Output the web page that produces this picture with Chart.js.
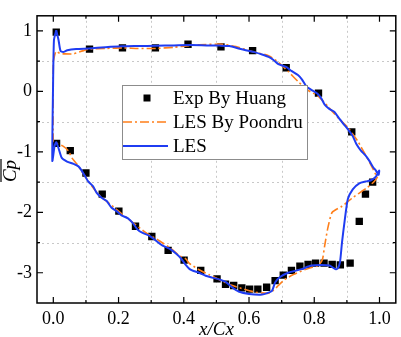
<!DOCTYPE html>
<html>
<head>
<meta charset="UTF-8">
<title>Cp distribution</title>
<script src="https://cdn.jsdelivr.net/npm/chart.js"></script>
<style>
  html, body { margin: 0; padding: 0; background: #fff; }
  canvas { display: block; }
</style>
</head>
<body>
<canvas id="cp" width="401" height="337"></canvas>
<script>
  // axis ticks
  const xMajor = [0, 0.2, 0.4, 0.6, 0.8, 1.0];
  const xMinor = [0.1, 0.3, 0.5, 0.7, 0.9];
  const yMajor = [-3, -2, -1, 0, 1];
  const yMinor = [-2.5, -1.5, -0.5, 0.5];
  const legendLabels = ['Exp By Huang', 'LES By Poondru', 'LES'];

  // Exp By Huang (x/Cx, Cp)
  const expUpper = [[0.009,0.98],[0.111,0.70],[0.212,0.72],[0.313,0.72],[0.413,0.78],[0.514,0.735],
    [0.611,0.675],[0.714,0.39],[0.813,-0.03],[0.915,-0.67],[0.979,-1.50]];
  const expLower = [[0.010,-0.86],[0.052,-0.98],[0.100,-1.35],[0.150,-1.70],[0.201,-1.98],[0.252,-2.23],
    [0.302,-2.40],[0.352,-2.63],[0.401,-2.79],[0.452,-2.96],[0.502,-3.10],[0.528,-3.19],[0.553,-3.21],
    [0.578,-3.25],[0.602,-3.27],[0.627,-3.27],[0.654,-3.24],[0.680,-3.13],[0.705,-3.04],[0.730,-2.96],
    [0.756,-2.89],[0.781,-2.86],[0.804,-2.84],[0.830,-2.84],[0.855,-2.86],[0.880,-2.87],[0.910,-2.84],
    [0.938,-2.15],[0.957,-1.70]];

  // LES (upper surface LE -> TE, then lower surface TE -> LE)
  const lesUpper = [[0.009,1.01],[0.016,0.85],[0.022,0.67],[0.030,0.65],[0.043,0.68],[0.07,0.70],[0.11,0.71],
    [0.16,0.73],[0.21,0.745],[0.26,0.75],[0.315,0.755],[0.37,0.76],[0.42,0.765],[0.47,0.76],[0.51,0.757],
    [0.54,0.75],[0.568,0.71],[0.59,0.68],[0.619,0.645],[0.64,0.61],[0.66,0.57],[0.675,0.52],[0.69,0.45],
    [0.705,0.42],[0.715,0.40],[0.73,0.34],[0.75,0.27],[0.762,0.20],[0.776,0.08],[0.79,0.03],[0.81,-0.04],
    [0.822,-0.12],[0.832,-0.22],[0.846,-0.29],[0.862,-0.34],[0.878,-0.46],[0.893,-0.56],[0.905,-0.64],
    [0.918,-0.74],[0.93,-0.88],[0.943,-0.98],[0.957,-1.06],[0.969,-1.15],[0.98,-1.25],[0.989,-1.31],
    [0.997,-1.38],[0.999,-1.33]];
  const lesLower = [[0.999,-1.31],[0.989,-1.41],[0.974,-1.47],[0.958,-1.49],[0.938,-1.52],[0.918,-1.62],
    [0.903,-1.78],[0.893,-2.15],[0.885,-2.5],[0.879,-2.82],[0.872,-2.93],[0.865,-2.94],[0.847,-2.88],
    [0.822,-2.87],[0.791,-2.88],[0.761,-2.94],[0.72,-3.0],[0.695,-3.07],[0.68,-3.16],[0.67,-3.30],
    [0.64,-3.36],[0.60,-3.35],[0.568,-3.31],[0.548,-3.24],[0.528,-3.15],[0.508,-3.11],[0.487,-3.08],
    [0.467,-3.05],[0.447,-3.0],[0.43,-2.97],[0.418,-2.94],[0.406,-2.87],[0.391,-2.76],[0.376,-2.68],
    [0.356,-2.60],[0.335,-2.55],[0.315,-2.47],[0.295,-2.39],[0.274,-2.34],[0.259,-2.29],[0.244,-2.18],
    [0.229,-2.10],[0.209,-2.05],[0.194,-1.98],[0.178,-1.92],[0.163,-1.81],[0.148,-1.76],[0.133,-1.68],
    [0.122,-1.57],[0.107,-1.49],[0.097,-1.40],[0.087,-1.31],[0.077,-1.24],[0.062,-1.20],[0.042,-1.16],
    [0.026,-1.10],[0.016,-0.94],[0.009,-0.84],[0.004,-0.9],[-0.003,-1.15],[-0.001,0.0],[0.002,0.85],
    [0.009,1.01]];

  // LES By Poondru
  const poondruUpper = [[0.0,0.5],[0.008,0.66],[0.02,0.63],[0.035,0.62],[0.062,0.62],[0.09,0.67],[0.11,0.70],
    [0.16,0.71],[0.213,0.72],[0.26,0.71],[0.315,0.71],[0.37,0.73],[0.416,0.757],[0.447,0.77],[0.517,0.78],
    [0.56,0.74],[0.609,0.66],[0.66,0.59],[0.69,0.48],[0.72,0.33],[0.751,0.16],[0.78,0.02],[0.81,-0.07],
    [0.842,-0.25],[0.87,-0.42],[0.903,-0.60],[0.933,-0.82],[0.955,-1.03],[0.974,-1.22],[0.989,-1.38]];
  const poondruLower = [[0.994,-1.41],[0.984,-1.49],[0.96,-1.6],[0.92,-1.75],[0.885,-1.9],[0.855,-2.0],
    [0.842,-2.25],[0.832,-2.55],[0.825,-2.78],[0.812,-2.88],[0.786,-2.92],[0.761,-2.97],[0.736,-3.03],
    [0.71,-3.11],[0.69,-3.21],[0.675,-3.29],[0.66,-3.34],[0.619,-3.32],[0.578,-3.26],[0.538,-3.19],
    [0.508,-3.11],[0.477,-3.03],[0.447,-2.95],[0.416,-2.84],[0.406,-2.77],[0.386,-2.72],[0.366,-2.62],
    [0.325,-2.47],[0.285,-2.34],[0.239,-2.15],[0.209,-2.02],[0.173,-1.86],[0.138,-1.70],[0.112,-1.52],
    [0.092,-1.36],[0.072,-1.20],[0.057,-1.10],[0.047,-0.99],[0.031,-0.91],[0.011,-0.86],[0.0,-0.83],
    [0.0,0.5]];

  const toPts = arr => arr.map(p => ({ x: p[0], y: p[1] }));

  const serif = '"Liberation Serif", "Times New Roman", serif';
  Chart.defaults.font.family = serif;
  Chart.defaults.color = '#000';

  const BLUE = '#1f3cf2';
  const ORANGE = '#ff7f1a';

  // grid, frame, inward ticks, legend and axis titles
  const decor = {
    id: 'decor',
    beforeDatasetsDraw(chart) {
      const { ctx, chartArea: a, scales: { x, y } } = chart;
      ctx.save();
      ctx.strokeStyle = '#c8c8c8';
      ctx.lineWidth = 1;
      ctx.setLineDash([2, 3]);
      xMinor.forEach(v => {
        const p = Math.round(x.getPixelForValue(v)) + 0.5;
        ctx.beginPath(); ctx.moveTo(p, a.top); ctx.lineTo(p, a.bottom); ctx.stroke();
      });
      yMinor.forEach(v => {
        const p = Math.round(y.getPixelForValue(v)) + 0.5;
        ctx.beginPath(); ctx.moveTo(a.left, p); ctx.lineTo(a.right, p); ctx.stroke();
      });
      ctx.restore();
    },
    afterDatasetsDraw(chart) {
      const { ctx, chartArea: a, scales: { x, y } } = chart;
      ctx.save();
      ctx.strokeStyle = '#000';
      ctx.lineWidth = 1.5;
      ctx.strokeRect(a.left, a.top, a.right - a.left, a.bottom - a.top);

      ctx.lineWidth = 1.2;
      const tickX = (vals, len) => vals.forEach(v => {
        const p = x.getPixelForValue(v);
        ctx.beginPath();
        ctx.moveTo(p, a.bottom); ctx.lineTo(p, a.bottom - len);
        ctx.moveTo(p, a.top); ctx.lineTo(p, a.top + len);
        ctx.stroke();
      });
      const tickY = (vals, len) => vals.forEach(v => {
        const p = y.getPixelForValue(v);
        ctx.beginPath();
        ctx.moveTo(a.left, p); ctx.lineTo(a.left + len, p);
        ctx.moveTo(a.right, p); ctx.lineTo(a.right - len, p);
        ctx.stroke();
      });
      tickX(xMajor, 6); tickX(xMinor, 3);
      tickY(yMajor, 6); tickY(yMinor, 3);

      // legend
      const ds = chart.data.datasets;
      const bx = 122, by = 85, bw = 185, bh = 74;
      ctx.fillStyle = '#fff';
      ctx.fillRect(bx, by, bw, bh);
      ctx.strokeStyle = '#8c8c8c';
      ctx.lineWidth = 1;
      ctx.strokeRect(bx + 0.5, by + 0.5, bw, bh);
      const rows = [98, 122, 146];
      ctx.font = '19px ' + serif;
      ctx.textBaseline = 'middle';
      ctx.textAlign = 'left';
      rows.forEach((ry, i) => {
        const d = ds[i];
        if (i === 0) {
          ctx.fillStyle = d.backgroundColor;
          ctx.fillRect(143.5, ry - 3.5, 7, 7);
        } else {
          ctx.strokeStyle = d.borderColor;
          ctx.lineWidth = d.borderWidth;
          ctx.setLineDash(d.borderDash || []);
          ctx.beginPath(); ctx.moveTo(123, ry); ctx.lineTo(168, ry); ctx.stroke();
          ctx.setLineDash([]);
        }
        ctx.fillStyle = '#000';
        ctx.fillText(legendLabels[i], 173, ry + 1);
      });

      // x title
      ctx.font = 'italic 19px ' + serif;
      ctx.textAlign = 'center';
      ctx.textBaseline = 'alphabetic';
      ctx.fillText('x/Cx', (a.left + a.right) / 2, 335);

      // y title with overline
      ctx.translate(16, 171);
      ctx.rotate(-Math.PI / 2);
      ctx.fillText('Cp', 0, 0);
      const w = ctx.measureText('Cp').width;
      ctx.strokeStyle = '#000';
      ctx.lineWidth = 1.2;
      ctx.beginPath(); ctx.moveTo(-w / 2, -15); ctx.lineTo(w / 2 + 1, -15); ctx.stroke();
      ctx.restore();
    }
  };

  new Chart(document.getElementById('cp'), {
    type: 'scatter',
    data: {
      datasets: [
        {
          label: legendLabels[0],
          data: toPts(expUpper.concat(expLower)),
          pointStyle: 'rect',
          pointRadius: 5.2,
          backgroundColor: '#000',
          borderWidth: 0,
          showLine: false,
          order: 2
        },
        {
          label: legendLabels[1],
          data: toPts(poondruUpper.concat(poondruLower)),
          showLine: true,
          borderColor: ORANGE,
          borderWidth: 1.6,
          borderDash: [9, 3, 2, 3],
          pointRadius: 0,
          tension: 0.2,
          order: 1
        },
        {
          label: legendLabels[2],
          data: toPts(lesUpper.concat(lesLower)),
          showLine: true,
          borderColor: BLUE,
          borderWidth: 2,
          pointRadius: 0,
          tension: 0.2,
          order: 0
        }
      ]
    },
    options: {
      responsive: false,
      animation: false,
      layout: { padding: { top: 2, right: 3, left: 0, bottom: 0 } },
      plugins: { legend: { display: false }, tooltip: { enabled: false } },
      scales: {
        x: {
          type: 'linear',
          min: -0.05,
          max: 1.05,
          grid: { display: false, drawTicks: false },
          border: { display: false },
          afterBuildTicks: s => { s.ticks = xMajor.map(v => ({ value: v })); },
          afterFit: s => { s.height = 34; },
          ticks: {
            padding: 5,
            font: { size: 18 },
            color: '#000',
            callback: v => v.toFixed(1)
          }
        },
        y: {
          min: -3.5,
          max: 1.25,
          grid: { display: false, drawTicks: false },
          border: { display: false },
          afterBuildTicks: s => { s.ticks = yMajor.map(v => ({ value: v })); },
          afterFit: s => { s.width = 37; },
          ticks: {
            padding: 5,
            font: { size: 18 },
            color: '#000',
            callback: v => String(v)
          }
        }
      }
    },
    plugins: [decor]
  });
</script>
</body>
</html>
